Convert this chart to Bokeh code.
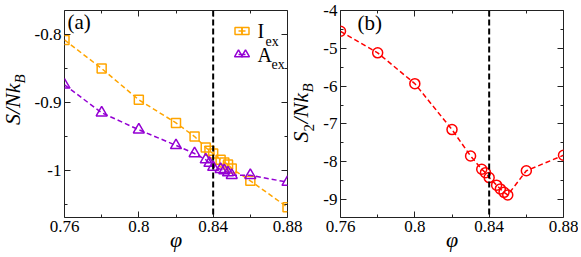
import math
from bokeh.plotting import figure
from bokeh.layouts import row
from bokeh.models import (FixedTicker, LinearAxis, Label, Span, Range1d,
                          CustomJSTickFormatter, PrintfTickFormatter)
from bokeh.core.properties import value
from bokeh.embed import file_html
from bokeh.resources import INLINE

# ---------------- data ----------------
phi = [0.76, 0.78, 0.80, 0.82, 0.83, 0.836, 0.838, 0.84, 0.844, 0.846, 0.848, 0.85, 0.86, 0.88]
I_ex = [-0.808, -0.850, -0.896, -0.930, -0.950, -0.966, -0.971, -0.975, -0.984, -0.988, -0.991, -0.997, -1.015, -1.054]
A_ex = [-0.874, -0.915, -0.940, -0.963, -0.975, -0.984, -0.989, -0.995, -0.998, -1.000, -1.003, -1.007, -1.007, -1.017]
S2 = [-4.55, -5.12, -5.935, -7.15, -7.85, -8.20, -8.29, -8.42, -8.62, -8.72, -8.81, -8.88, -8.24, -7.83]
phi_c = 0.84

x_ticks = [0.76, 0.80, 0.84, 0.88]
x_minor = [0.78, 0.82, 0.86]
ya_ticks = [-1.0, -0.9, -0.8]
ya_minor = [-1.05, -0.95, -0.85]
yb_ticks = [-9, -8, -7, -6, -5, -4]
yb_minor = [-9.5, -8.5, -7.5, -6.5, -5.5, -4.5]

legend_labels = ["I", "A"]
legend_sub = "ex"
x_label = "φ"

# ---------------- layout (page pixels, origin top-left) ----------------
FONT = "Liberation Serif"
TICK_FS = "17px"
H = 257
FR_TOP, FR_BOT = 10, 217
FR_W = 223
LA_W = 28                      # y-label strip for (a)
A_LEFT = 64
A_RIGHT = A_LEFT + FR_W        # 287
A_FIG_X0 = LA_W
A_RB = 17
A_FIG_END = A_RIGHT + A_RB     # 304
LB_X0, LB_W = 285, 34          # y-label strip for (b) (overlaps a's border)
B_FIG_X0 = LB_X0 + LB_W        # 319
B_LEFT = 340
B_RIGHT = B_LEFT + FR_W

XA = (0.76, 0.88)
YA = (-1.069, -0.7647)
YB = (-9.476, -4.0)


def mk_map(left, right, xr, yr):
    def fx(px):
        return xr[0] + (px - left) * (xr[1] - xr[0]) / (right - left)

    def fy(py):
        return yr[1] + (py - FR_TOP) * (yr[0] - yr[1]) / (FR_BOT - FR_TOP)
    return fx, fy


ax, ay = mk_map(A_LEFT, A_RIGHT, XA, YA)
bx, by = mk_map(B_LEFT, B_RIGHT, XA, YB)

AX_COL = "#222222"


def make_fig(left_b, right_b, yr, yt, ym):
    p = figure(frame_width=FR_W, frame_height=FR_BOT - FR_TOP,
               x_range=Range1d(*XA), y_range=Range1d(*yr),
               output_backend="svg", toolbar_location=None,
               min_border_left=left_b, min_border_right=right_b,
               min_border_top=FR_TOP, min_border_bottom=H - FR_BOT)
    p.grid.visible = False
    p.outline_line_color = AX_COL
    p.outline_line_width = 1
    p.background_fill_color = "white"
    p.border_fill_color = "white"
    xt = FixedTicker(ticks=x_ticks, minor_ticks=x_minor)
    ytk = FixedTicker(ticks=yt, minor_ticks=ym)
    for axis, tk in ((p.xaxis[0], xt), (p.yaxis[0], ytk)):
        axis.ticker = tk
        axis.formatter = PrintfTickFormatter(format="%g")
        axis.major_label_text_font = FONT
        axis.major_label_text_font_size = TICK_FS
        axis.major_label_text_color = "black"
        axis.major_label_standoff = 3
    xa = p.xaxis[0]
    xa.axis_label = x_label
    xa.axis_label_text_font = FONT
    xa.axis_label_text_font_style = "italic"
    xa.axis_label_text_font_size = "22px"
    xa.axis_label_text_color = "black"
    xa.axis_label_standoff = -8
    for loc, tk in (("above", xt), ("right", ytk)):
        p.add_layout(LinearAxis(ticker=tk, formatter=CustomJSTickFormatter(code="return ''"),
                                major_label_standoff=0), loc)
    for axis in p.axis:
        axis.axis_line_color = None
        axis.major_tick_in = 6
        axis.major_tick_out = 0
        axis.minor_tick_in = 3
        axis.minor_tick_out = 0
        axis.major_tick_line_color = AX_COL
        axis.minor_tick_line_color = AX_COL
    p.add_layout(Span(location=phi_c, dimension="height", line_color="black",
                      line_width=2, line_dash="6 3"))
    return p


def label_strip(width, margin_left=0):
    p = figure(frame_width=width, frame_height=H, x_range=Range1d(0, width),
               y_range=Range1d(H, 0), x_axis_type=None, y_axis_type=None,
               output_backend="svg", toolbar_location=None, min_border=0,
               margin=(0, 0, 0, margin_left))
    p.grid.visible = False
    p.outline_line_color = None
    p.background_fill_alpha = 0
    p.border_fill_alpha = 0
    return p


def rot_text(p, x, y, txt, fs, align, italic=True):
    p.text([x], [y], text=[txt], angle=math.pi / 2, text_font=value(FONT),
           text_font_style="italic" if italic else "normal", text_font_size=fs,
           text_align=align, text_baseline="middle", text_color="black")


# ---------------- y-label strip (a) ----------------
la = label_strip(LA_W)
rot_text(la, 12, 73, "S/Nk", "22px", "right")
rot_text(la, 19, 73, "B", "15px", "left")

# ---------------- panel (a) ----------------
pa = make_fig(A_LEFT - A_FIG_X0, A_RB, YA, ya_ticks, ya_minor)
ORANGE = "#FFA500"
PURPLE = "#9400D3"
RED = "#FF0000"

pa.line(phi, I_ex, line_color=ORANGE, line_width=1.5, line_dash="5 3")
pa.scatter(phi, I_ex, marker="square", size=9, fill_color=None, line_color=ORANGE, line_width=1.5)
pa.line(phi, A_ex, line_color=PURPLE, line_width=1.5, line_dash="5 3")
pa.scatter(phi, A_ex, marker="triangle", size=11, fill_color=None, line_color=PURPLE, line_width=1.5)

for (py, col, mk, lab, sub_dx) in ((30.5, ORANGE, "square", legend_labels[0], 8),
                                    (54, PURPLE, "triangle", legend_labels[1], 14)):
    xs = [ax(238), ax(245)]
    pa.line(xs, [ay(py), ay(py)], line_color=col, line_width=1.5)
    pa.scatter(xs, [ay(py), ay(py)], marker=mk, size=7 if mk == "square" else 8,
               fill_color=None, line_color=col, line_width=1.5)
    pa.text([ax(257)], [ay(py)], text=[lab], text_font=value(FONT), text_font_size="20px",
            text_baseline="middle", text_align="left", text_color="black")
    pa.text([ax(257 + sub_dx)], [ay(py + 10)], text=[legend_sub], text_font=value(FONT),
            text_font_size="14px", text_baseline="middle", text_align="left", text_color="black")

pa.add_layout(Label(x=ax(67), y=ay(21), text="(a)", text_font=FONT, text_font_size="21px",
                    text_align="left", text_baseline="middle", text_color="black"))

# ---------------- y-label strip (b) ----------------
lb = label_strip(LB_W, margin_left=LB_X0 - A_FIG_END)
o = LB_X0
rot_text(lb, 300 - o, 121, "S", "22px", "right")
rot_text(lb, 308 - o, 121, "2", "15px", "left", italic=False)
rot_text(lb, 300 - o, 113, "/Nk", "22px", "left")
rot_text(lb, 307 - o, 82, "B", "15px", "left")

# ---------------- panel (b) ----------------
pb = make_fig(B_LEFT - B_FIG_X0, 15, YB, yb_ticks, yb_minor)
pb.line(phi, S2, line_color=RED, line_width=1.5, line_dash="5 3")
pb.scatter(phi, S2, marker="circle", size=10, fill_color=None, line_color=RED, line_width=1.5)

pb.add_layout(Label(x=bx(357), y=by(22), text="(b)", text_font=FONT, text_font_size="21px",
                    text_align="left", text_baseline="middle", text_color="black"))

layout = row(la, pa, lb, pb, spacing=0)
open("out.html", "w").write(file_html(layout, INLINE))
